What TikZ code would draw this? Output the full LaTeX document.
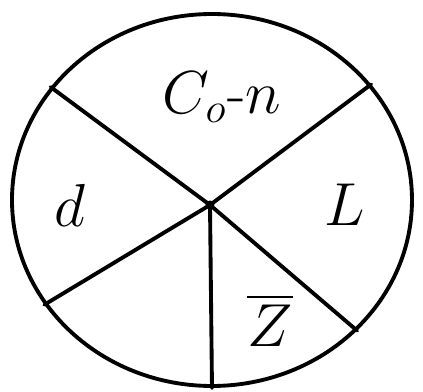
\documentclass[tikz,border=0pt]{standalone}
\usepackage{amsmath,amssymb}
\usepackage{xcolor}
\usepackage{tikz}
\usetikzlibrary{shapes.geometric,positioning}

\begin{document}
\begin{tikzpicture}[scale=1,
        rim/.style={draw,ellipse,line width=1.1pt,minimum width=4.0cm,minimum height=3.72cm,inner sep=0pt},
        spoke/.style={line width=1.1pt,line cap=round},
        lbl/.style={font=\LARGE}]
        \useasboundingbox (0,0) rectangle (4.23,3.92);
        \node[rim] (disc) at (2.12,1.92) {};
        \coordinate (hub) at (2.10,1.87);
        \fill (hub) circle (0.045);
        \foreach \a in {145,36,212,270,318}{
            \draw[spoke] (hub) -- (disc.\a);
        }
        \node[lbl] (top) at (2.22,2.95) {$C_o\text{-}n$};
        \node[lbl] (left) at (0.70,1.87) {$d$};
        \node[lbl] (right) at (3.45,1.87) {$L$};
        \node[lbl] (low) at (2.70,0.72) {$\overline{Z}$};
    \end{tikzpicture}
\end{document}
